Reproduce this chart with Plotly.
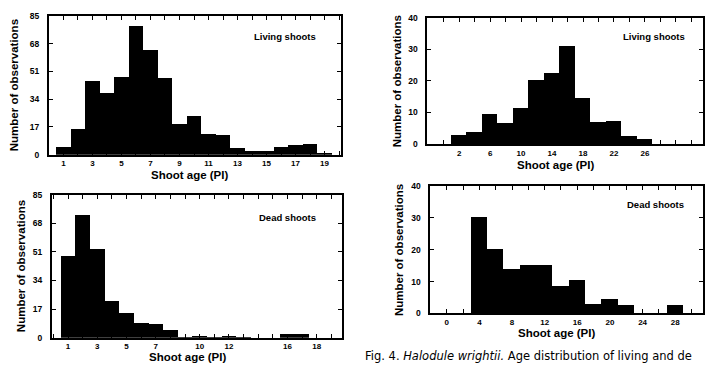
import plotly.graph_objects as go

# ---- data ----
age_a = list(range(1, 20))
living_a = [5, 16, 45, 38, 48, 79, 64, 47, 19, 24, 13, 12, 4.5, 2.5, 2.5, 5, 6, 6.5, 1.5]
dead_a = [49, 73, 53, 22, 15, 9, 8.5, 5, 0.4, 1, 0.4, 1, 0.4, 0, 0, 2.2, 2.4, 0, 0]
ytick_a = [0, 17, 34, 51, 68, 85]
xlab_top_left = [1, 3, 5, 7, 9, 11, 13, 15, 17, 19]
xlab_bot_left = [1, 3, 5, 7, 10, 12, 16, 18]

age_b_living = list(range(2, 28, 2))
living_b = [3, 4, 9.7, 6.8, 11.4, 20.5, 22.5, 31.2, 14.8, 7, 7.5, 2.8, 1.7]
age_b_dead = list(range(4, 30, 2))
dead_b = [30.3, 20.3, 13.9, 15.3, 15.3, 8.5, 10.6, 2.9, 4.4, 2.6, 0, 0, 2.6]
ytick_b = [0, 10, 20, 30, 40]
xlab_top_right = [2, 6, 10, 14, 18, 22, 26]
xlab_bot_right = [0, 4, 8, 12, 16, 20, 24, 28]

FONT = "Liberation Sans"
W, H = 705, 368

fig = go.Figure()

panels = [
    # axis id, x, y, bar width, domain x px, domain y px (top,bottom), xrange, yrange,
    # y ticks, minor x ticks, labelled x ticks, label, label pos, ytitle offset, xtitle shift, xtitle dy
    ("", age_a, living_a, 1, (49, 341), (11, 154), [0.0, 20.1], [0, 85], ytick_a,
     list(range(0, 21)), xlab_top_left, "Living shoots", (318, 32), 35, -5, 21),
    ("2", age_a, dead_a, 1, (52, 342), (195, 342), [-0.1, 19.7], [0, 85], ytick_a,
     list(range(0, 20)), xlab_bot_left, "Dead shoots", (318, 218), 31, -9, 20),
    ("3", age_b_living, living_b, 2, (428, 704), (13, 143), [-2.1, 33.5], [0, 40], ytick_b,
     list(range(0, 34, 2)), xlab_top_right, "Living shoots", (688, 32), 31, -10, 21),
    ("4", age_b_dead, dead_b, 2, (431, 704), (186, 317), [-2.0, 31.4], [0, 40], ytick_b,
     list(range(0, 32, 2)), xlab_bot_right, "Dead shoots", (687, 205), 32, -10, 20),
]

annotations = []
for (ax, xs, ys, wd, dx, dy, xr, yr, yt, xminor, xlab, label, lpos, yoff, xshift, tdy) in panels:
    fig.add_trace(go.Bar(
        x=xs, y=ys, width=wd,
        marker=dict(color="black", line=dict(width=0)),
        xaxis="x" + ax, yaxis="y" + ax, showlegend=False, hoverinfo="skip",
    ))
    xa = dict(
        domain=[dx[0] / W, dx[1] / W], range=xr, anchor="y" + ax,
        tickmode="array", tickvals=xminor,
        ticktext=[str(v) if v in xlab else "" for v in xminor],
        ticks="inside", ticklen=4, tickwidth=1.3, tickcolor="black",
        showline=True, linecolor="black", linewidth=2, mirror="allticks",
        showgrid=False, zeroline=False, ticklabelstandoff=0,
        tickfont=dict(family=FONT, size=8, color="black", weight="bold"),
    )
    ya = dict(
        domain=[(H - dy[1]) / H, (H - dy[0]) / H], range=yr, anchor="x" + ax,
        tickmode="array", tickvals=yt,
        ticks="inside", ticklen=4, tickwidth=1.3, tickcolor="black",
        showline=True, linecolor="black", linewidth=2, mirror="allticks",
        showgrid=False, zeroline=False, ticklabelstandoff=6,
        tickfont=dict(family=FONT, size=8.5, color="black", weight="bold"),
    )
    fig.update_layout(**{"xaxis" + ax: xa, "yaxis" + ax: ya})
    annotations.append(dict(
        text=label, x=lpos[0] / W, y=(H - lpos[1]) / H, xref="paper", yref="paper",
        xanchor="right", yanchor="middle", showarrow=False,
        font=dict(family=FONT, size=9.5, color="black", weight="bold"),
    ))
    annotations.append(dict(
        text="Shoot age (PI)", x=((dx[0] + dx[1]) / 2 + xshift) / W,
        y=(H - (dy[1] + tdy)) / H, xref="paper", yref="paper",
        xanchor="center", yanchor="middle", showarrow=False,
        font=dict(family=FONT, size=11.5, color="black", weight="bold"),
    ))
    annotations.append(dict(
        text="Number of observations", textangle=-90,
        x=(dx[0] - yoff) / W, y=(H - (dy[0] + dy[1]) / 2) / H, xref="paper", yref="paper",
        xanchor="center", yanchor="middle", showarrow=False,
        font=dict(family=FONT, size=11.5, color="black", weight="bold"),
    ))

annotations.append(dict(
    text="Fig. 4. <i>Halodule wrightii.</i> Age distribution of living and de",
    x=364 / W, y=(H - 361) / H, xref="paper", yref="paper",
    xanchor="left", yanchor="middle", showarrow=False,
    font=dict(family="DejaVu Sans", size=11.5, color="black"),
))

fig.update_layout(
    width=W, height=H, margin=dict(l=0, r=0, t=0, b=0),
    paper_bgcolor="white", plot_bgcolor="white",
    bargap=0, annotations=annotations,
)

fig.write_html("out.html")
